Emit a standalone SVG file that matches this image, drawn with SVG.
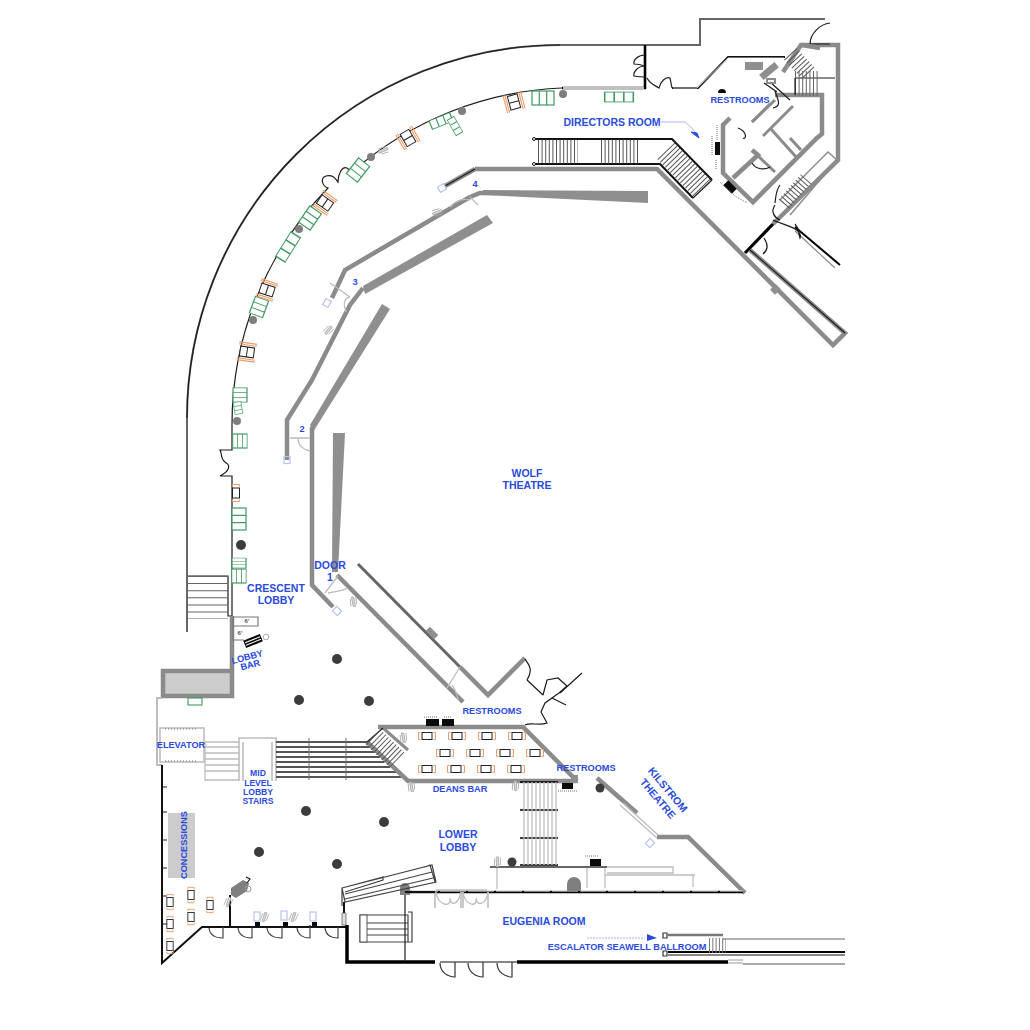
<svg xmlns="http://www.w3.org/2000/svg" xmlns:xlink="http://www.w3.org/1999/xlink" width="1030" height="1030" viewBox="0 0 1030 1030">
<style>
.w{fill:none;stroke:#8b8b8b;stroke-width:4.5;stroke-linejoin:miter}
.w2{fill:none;stroke:#8b8b8b;stroke-width:3}
.k{fill:none;stroke:#1c1c1c;stroke-width:1.2}
.k2{fill:none;stroke:#111;stroke-width:2}
.k3{fill:none;stroke:#000;stroke-width:3.2}
.l{fill:none;stroke:#bdbdbd;stroke-width:1.3}
.m{fill:none;stroke:#6f6f6f;stroke-width:1}
.t{fill:none;stroke:#555;stroke-dasharray:1 2.6}
.tr{fill:none;stroke:#666;stroke-dasharray:1.2 2.2}
.solid{fill:#8f8f8f;stroke:none}
.col{fill:#3c3c3c}
.colg{fill:#7f7f7f}
.b{fill:#0a0a0a}
.bd{fill:none;stroke:#b9c4ef;stroke-width:1.2}
.lb{font-family:"Liberation Sans",Arial,sans-serif;font-weight:700;fill:#2a4bdc;text-anchor:middle}
.s10{font-size:10.5px}.s9{font-size:9.2px}.s8{font-size:8.6px}
.sm{font-family:"Liberation Sans",Arial,sans-serif;font-size:6px;fill:#555;text-anchor:middle;font-weight:700}
</style>
<defs>
<g id="tb"><rect x="-5" y="-3.5" width="10" height="7" fill="#fff" stroke="#222" stroke-width="1"/><path d="M-6.5-3.5h-2v7h2M6.5-3.5h2v7h-2" fill="none" stroke="#ee9c68" stroke-width="1"/></g>
<g id="db"><rect x="-7" y="-5" width="14" height="10" fill="#fff" stroke="#222" stroke-width="1"/><path d="M0-5V5" stroke="#222" stroke-width="1"/><path d="M-9-7H9M-9-9H9M-9 7H9M-9 9H9" stroke="#ee9c68" stroke-width="1.1" fill="none"/></g>
<g id="so"><rect x="-11" y="-7" width="22" height="14" fill="#fff" stroke="#3f9a60" stroke-width="1.2"/><path d="M-3.7-7V7M3.7-7V7" stroke="#3f9a60" stroke-width="1.2"/></g>
<g id="ha"><path d="M-2 4L1-5 3-4 0 5ZM-4 3L-1-4M2 4L5-3" fill="#d8d8d8" stroke="#aaa" stroke-width=".8"/></g>
<g id="dr"><rect x="-3" y="-3.5" width="6" height="7" fill="#fff" class="bd"/></g>
</defs>

<g id="outer-walls">
<path class="w2" style="stroke:#666;stroke-width:2" d="M187 632V418A373 373 0 0 1 560 45H700V19H825"/>
<path class="k" d="M187 418A373 373 0 0 1 560 45"/>
<path class="k" d="M232 616V476H220C228 472 232 466 225 462 220 458 222 452 220 450H232V425A339 339 0 0 1 328 188C322 186 320 178 326 176 334 174 336 180 338 182 338 174 342 166 347 168L352 172 A339 339 0 0 1 562 88"/>
<path class="k3" style="stroke-width:2.6" d="M562 88H645V45"/>
<path class="l" style="stroke:#fff" d="M563 88H644"/>
<path class="k" d="M645 55C638 55 633 60 634 64 638 64 642 65 645 66 638 66 633 72 634 76 638 77 642 77 645 77M647 78C650 84 656 86 659 88 660 82 666 76 670 78L672 88"/>
<path class="k2" d="M672 88H698L728 57H785"/>
<path class="l" style="stroke:#fff;stroke-width:.8" d="M673 88H697L728 58H784"/>
<path class="w" d="M783 72L801 45H838V160L773 224"/>
<path class="k3" d="M773 224L745 253"/>
<path class="k" d="M810 44C810 34 820 24 830 23M810 44H830"/>
<path class="w" d="M475 169H657L833 345 845 333 750 250"/>
<path class="k" d="M750 250L845 333"/>
<path class="k3" style="stroke-width:2" d="M795 227L840 265"/>
<path class="w2" style="stroke-width:1.2" d="M795 231L835 268"/>
<path class="k" d="M773 220C780 224 804 228 800 238 798 232 800 230 795 224M764 238C768 244 768 250 763 254"/>
<rect class="solid" x="772" y="285" width="7" height="8" transform="rotate(45 775 289)"/>
</g>

<g id="escalators-top">
<path class="k2" d="M533 139H672L712 180M533 164H660L693 198"/>
<circle cx="534" cy="139" r="1.5" fill="#fff" stroke="#111"/><circle cx="534" cy="164" r="1.5" fill="#fff" stroke="#111"/>
<path class="t" stroke-width="24" d="M538 151.5H578M601 151.5H640"/>
<path class="t" stroke-width="24" d="M666 151L702 188"/>
<path class="k" d="M712 180L693 198"/>
<polygon class="solid" points="483,190 648,191 648,203 483,195"/>
</g>

<g id="directors-block">
<path class="w" d="M730 118L723 125V173L753 202 817 138 822 134V95H775"/>
<path class="w" d="M733 178L758 155 752 150"/>
<path class="w2" d="M763 136L793 106M752 122L770 104"/>
<path class="w2" d="M775 100L752 122M770 128L797 158M790 138L801 150M757 155L775 172"/>
<path class="k" d="M738 128C748 132 746 140 743 138M752 163C756 170 765 170 770 167M775 91C778 100 782 106 773 108"/>
<path class="k" d="M780 185C776 190 776 195 775 203M775 205C770 212 775 218 780 220"/>
<rect x="715" y="142" width="5" height="13" class="b"/><path class="m" style="stroke-dasharray:1 1" d="M712 136V155M717 125V140M716 160V170"/>
<rect class="b" x="-6" y="-3.5" width="12" height="7" transform="translate(730 187) rotate(45)"/><path class="m" style="stroke-dasharray:1 1" d="M720 182L735 196 747 203"/>
<rect class="solid" x="745" y="62" width="18" height="8"/>
<rect class="solid" x="-10" y="-3.5" width="20" height="7" transform="translate(769 71) rotate(-40)"/>
<path class="k" d="M770 82L790 100M764 83L777 92M795 78H835"/>
<rect class="w2" style="stroke-width:2" x="767" y="79" width="8" height="4"/>
<path class="t" stroke-width="17" d="M793 59L809 80" transform="rotate(-6 801 70) translate(-1 -6)"/>
<path class="t" stroke-width="25" style="stroke:#666" d="M795 83.500H820"/>
<path class="k" d="M795 78V95"/>
<path class="w2" style="stroke-width:1.5" d="M780 200L828 152 837 160 790 215"/>
<path class="t" stroke-width="14" d="M784 204L806 179"/>
<path class="w" d="M802 45L820 48"/>
</g>

<g id="theatre-walls">
<path class="w" d="M445 186L475 169"/><path class="k" d="M445 186L475 169"/>
<path class="w" d="M470 197L480 193H520M470 197L345 270 332 298"/>
<polygon class="solid" points="363,286 487,215 493,223 365,294"/>
<path class="w" d="M287 460V420L312 380 350 305 363 288"/>
<polygon class="solid" points="310,425 382,304 390,309 313,432"/>
<path class="w" d="M312 427V585L333 607"/>
<polygon class="solid" points="333,433 345,433 338,572 332,572"/>
<path class="w" d="M337 575L463 702"/>
<path class="w2" style="stroke:#666" d="M358 564L460 667"/>
<rect class="solid" x="-6" y="-3" width="12" height="6" transform="translate(432 633) rotate(45)"/>
<path class="w" d="M460 667L488 695 525 658"/>
<path class="l" d="M470 197L478 205M450 207C456 200 462 198 470 200M350 297L330 283M346 312C343 304 344 298 350 297M290 438H310M298 438C298 446 304 450 310 451M325 593L338 576M328 593C334 592 345 590 348 588M447 688L460 667M452 685C456 690 458 698 458 700"/>
<path class="k" d="M527 680C534 668 528 664 525 659"/>
<path class="k" d="M527 680L543 695M543 695L547 680 558 678 567 686 559 693 545 703 541 712 547 723C540 726 530 722 525 725M560 693L582 673M552 698L566 705"/>
</g>

<g id="lobby-structure">
<path class="k" d="M188 576H228V616H232"/>
<path class="t" stroke-width="40" style="stroke-dasharray:1 6.1;stroke:#666" d="M208 576V619"/>
<path class="w" d="M232 616V670"/>
<rect x="163" y="671" width="69" height="25" fill="#ccc" stroke="#8b8b8b" stroke-width="4.5"/>
<rect x="188" y="698" width="14" height="7" fill="#fff" stroke="#3f9a60" stroke-width="1.1"/>
<path class="l" style="stroke-width:2" d="M162 698H157V765H162"/>
<rect x="160" y="728" width="44" height="34" fill="none" stroke="#bbb" stroke-width="1.5"/>
<path class="m" style="stroke-dasharray:1 2" d="M165 729H198M165 761H198"/>
<path class="l" d="M205 742H239M205 747H239M205 753H239M205 759H239M205 765H239M205 771H239M205 780H239M205 742V781"/>
<path class="l" style="stroke-width:1.6" d="M239 781V738H276V781M243 742V781M272 742V781"/>
<path class="m" style="stroke-width:1.8;stroke:#555" d="M276 742H368M276 747H372M276 752H376M276 757H380M276 762H384M276 767H390M276 772H396M276 777H402"/>
<path class="m" d="M309 738V780M346 738V780"/>
<path class="w" d="M378 727H523L577 781M367 742L408 781H577"/>
<path class="w2" d="M383 728L408 750"/>
<path class="k" d="M367 742L383 728"/>
<path class="t" stroke-width="21" d="M373 737L397 760"/>
<rect class="b" x="426" y="719" width="13" height="7"/><rect class="b" x="442" y="719" width="12" height="7"/>
<path class="m" style="stroke-dasharray:1 1" d="M424 717H437M444 717H452"/>
<rect class="solid" x="571" y="775" width="7" height="8"/>
<rect class="b" x="562" y="783" width="11" height="6"/>
<path class="m" style="stroke-dasharray:1 1" d="M558 791H577"/>
<path class="k3" style="stroke-width:1.6" d="M520 782H558M520 810H558M520 838H558M520 865H558"/>
<path class="l" d="M524 782V865M528 782V865M532 782V865M536 782V865M540 782V865M544 782V865M548 782V865M552 782V865M556 782V865"/>
<path class="w" d="M597 778L637 813M657 837H688L745 893"/>
<path class="l" d="M620 805L657 838M623 803L658 835"/>
<path class="k2" style="stroke:#333;stroke-width:1.5" d="M490 867H607"/>
<path class="l" d="M497 868V889M587 868V888M605 868V888M607 867H673V873H607M605 875H695M693 875V887"/>
<rect class="b" x="590" y="859" width="11" height="7"/>
<path class="m" style="stroke-dasharray:1 1" d="M585 856H598"/>
<path class="k3" style="stroke-width:2.3" d="M410 892H743"/>
<path stroke="#fff" stroke-width="1" stroke-dasharray="26 2" fill="none" d="M412 891H743"/>
<path class="l" style="stroke-width:1.6" d="M435 892V908M461 892V908M463 892V908M488 892V908M436 890H487"/>
<path class="l" d="M436 892C438 906 452 908 450 898M461 892C458 906 450 906 450 898M463 892C465 906 478 908 476 898M488 892C486 906 476 906 476 898"/>
<path class="colg" d="M567 891V884A7 7 0 0 1 581 884V891Z"/>
<path class="colg" d="M400 895V888A5 5 0 0 1 410 888V895Z"/>
</g>

<g id="lower-west">
<path class="k2" d="M162 765V963L202 927H347"/>
<path class="k" d="M162 787H167M162 812H167M162 840H167M162 868H167M162 896H167M162 924H167M230 927V925M256 927V925M286 927V925M310 927V925"/>
<rect x="168" y="813" width="27" height="65" fill="#ccc"/>
<path class="k" d="M209 928C210 936 216 938 223 938V927M238 928C239 936 246 938 252 938V927M267 928C268 936 275 938 282 938V927M297 928C298 936 305 938 310 938V927M325 928C326 936 332 938 338 938V927" style="stroke:#444"/>
<path class="k3" style="stroke-width:3.5" d="M347 925V962H435"/>
<path class="k2" d="M230 926V895"/>
<path class="colg" d="M231 888L243 880 249 883 247 891 236 898 231 895Z"/>
<path class="k" d="M246 877L250 879 247 883"/><circle cx="248" cy="889" r="3" fill="none" stroke="#999"/>
<path class="k" style="stroke:#444" d="M342 888L432 865 436 882 345 902ZM345 894L432 872M345 899L433 878M342 888V906M342 888L383 877V880L345 892M425 867L430 865 435 882"/>
<path class="k2" d="M344 902V925"/>
<rect x="342" y="913" width="4" height="12" fill="#ddd" stroke="#555" stroke-width=".7"/>
<path class="k" style="stroke:#444" d="M360 915H408V942H360ZM360 923H408M360 929H408M360 935H408M366 915V942M408 912H412V942H408"/>
<rect x="360" y="915" width="7" height="27" fill="#fff" stroke="#555"/>
<path class="k" d="M405 895V962"/>
<path class="k2" d="M405 892H435"/>
<path class="k2" d="M440 962H517" style="stroke-width:1"/>
<path class="k" d="M440 963C440 972 448 977 455 977V962M468 963C468 972 476 977 483 977V962M497 963C497 972 505 977 512 977V962" style="stroke:#333"/>
<path class="k3" style="stroke-width:3.500" d="M517 962H728"/>
<path class="l" d="M728 960H743M728 963H743"/>
<path class="k" style="stroke:#555" d="M743 964H845"/>
<path class="w2" style="stroke:#777;stroke-width:2.500" d="M668 935H723"/>
<path class="k" style="stroke:#666" d="M723 939H845"/>
<path class="k3" style="stroke-width:1.800" d="M668 952H845"/>
<path class="w2" style="stroke:#888;stroke-width:2" d="M668 955H845"/>
<path class="k" d="M663 933H667V938H663ZM663 951H667V956H663Z" style="stroke:#333"/>
<path class="tr" stroke-width="15" style="stroke:#777;stroke-dasharray:1 2.300" d="M709 945.500H726"/>
<path class="m" d="M587 938H645" style="stroke:#a6b4ec;stroke-dasharray:2 1"/>
<path d="M647 934L657 938 647 941Z" fill="#2a4bdc"/>
<path class="m" d="M664 100H700" style="display:none"/>
<path d="M661 122C670 122 680 122 685 122 690 126 692 128 695 132" fill="none" stroke="#a6b4ec"/>
<path d="M691 132L697 133 699 138 Z" fill="#2a4bdc" stroke="#2a4bdc"/>
<path class="k" d="M233 617H258V626H233ZM233 617V640H240M233 640H244" style="stroke:#777"/>
<rect class="b" x="-9" y="-4" width="18" height="8" transform="translate(253 641) rotate(-22)"/>
<path stroke="#fff" stroke-width="1" d="M-8 -1.300H8M-8 1.300H8" transform="translate(253 641) rotate(-22)"/>
<circle cx="266" cy="637" r="2.800" fill="none" stroke="#aaa"/>
</g>

<g id="columns">
<circle class="col" cx="337" cy="659" r="5"/><circle class="col" cx="299" cy="700" r="5"/><circle class="col" cx="369" cy="701" r="5"/>
<circle class="col" cx="306" cy="811" r="5"/><circle class="col" cx="384" cy="822" r="5"/><circle class="col" cx="259" cy="852" r="5"/><circle class="col" cx="337" cy="864" r="5"/>
<circle class="col" cx="241" cy="545" r="5"/><circle class="col" cx="600" cy="788" r="4.500"/><circle class="col" cx="512" cy="862" r="4.500"/>
<circle class="colg" cx="237" cy="421" r="4"/><circle class="colg" cx="253" cy="320" r="4"/><circle class="colg" cx="299" cy="229" r="4"/><circle class="colg" cx="371" cy="157" r="4"/><circle class="colg" cx="462" cy="111" r="4"/><circle class="colg" cx="563" cy="94" r="4"/>
<path class="b" d="M718 93A4 4 0 0 1 726 93Z"/>
</g>

<g id="furniture">
<use xlink:href="#db" href="#db" transform="translate(514 102) rotate(75)"/>
<use xlink:href="#db" href="#db" transform="translate(408 138) rotate(60)"/>
<use xlink:href="#db" href="#db" transform="translate(325 203) rotate(35)"/>
<use xlink:href="#db" href="#db" transform="translate(267 290) rotate(18)"/>
<use xlink:href="#db" href="#db" transform="translate(247 352) rotate(8)"/>
<use xlink:href="#tb" href="#tb" transform="translate(236 493) rotate(90)"/>
<use xlink:href="#so" href="#so" transform="translate(543 98)"/>
<use xlink:href="#so" href="#so" transform="translate(619 97) scale(1.300 .7)"/>
<use xlink:href="#so" href="#so" transform="translate(441 121) rotate(-22) scale(1 .65)"/>
<use xlink:href="#so" href="#so" transform="translate(455 126) rotate(60) scale(.8 .55)"/>
<use xlink:href="#so" href="#so" transform="translate(358 170) rotate(-52) scale(.9 1)"/>
<use xlink:href="#so" href="#so" transform="translate(310 218) rotate(-55) scale(.9 1)"/>
<use xlink:href="#so" href="#so" transform="translate(288 247) rotate(-58) scale(1.300 .8)"/>
<use xlink:href="#so" href="#so" transform="translate(259 307) rotate(-70) scale(.8 1)"/>
<use xlink:href="#so" href="#so" transform="translate(240 395) rotate(90) scale(.65 1)" style="display:inline"/>
<use xlink:href="#so" href="#so" transform="translate(238 408) rotate(80) scale(.55 .55)"/>
<use xlink:href="#so" href="#so" transform="translate(240 441) scale(.65 1)"/>
<use xlink:href="#so" href="#so" transform="translate(239 519) rotate(90) scale(1 1)"/>
<use xlink:href="#so" href="#so" transform="translate(239 563) rotate(90) scale(.45 1)"/>
<use xlink:href="#so" href="#so" transform="translate(239 576) scale(.65 1)"/>
<use xlink:href="#tb" href="#tb" transform="translate(427 736)"/><use xlink:href="#tb" href="#tb" transform="translate(457 736)"/><use xlink:href="#tb" href="#tb" transform="translate(487 736)"/><use xlink:href="#tb" href="#tb" transform="translate(517 736)"/>
<use xlink:href="#tb" href="#tb" transform="translate(445 753)"/><use xlink:href="#tb" href="#tb" transform="translate(475 753)"/><use xlink:href="#tb" href="#tb" transform="translate(505 753)"/><use xlink:href="#tb" href="#tb" transform="translate(535 753)"/>
<use xlink:href="#tb" href="#tb" transform="translate(427 769)"/><use xlink:href="#tb" href="#tb" transform="translate(456 769)"/><use xlink:href="#tb" href="#tb" transform="translate(486 769)"/><use xlink:href="#tb" href="#tb" transform="translate(516 769)"/>
<use xlink:href="#tb" href="#tb" transform="translate(170 902) rotate(90) scale(.9)"/><use xlink:href="#tb" href="#tb" transform="translate(170 924) rotate(90) scale(.9)"/><use xlink:href="#tb" href="#tb" transform="translate(170 946) rotate(90) scale(.9)"/>
<use xlink:href="#tb" href="#tb" transform="translate(191 895) rotate(90) scale(.9)"/><use xlink:href="#tb" href="#tb" transform="translate(191 917) rotate(90) scale(.9)"/><use xlink:href="#tb" href="#tb" transform="translate(210 905) rotate(90) scale(.9)"/>
<use xlink:href="#ha" href="#ha" transform="translate(383 150) rotate(50)"/><use xlink:href="#ha" href="#ha" transform="translate(437 212) rotate(50)"/><use xlink:href="#ha" href="#ha" transform="translate(328 330) rotate(20)"/><use xlink:href="#ha" href="#ha" transform="translate(353 602) rotate(-30)"/><use xlink:href="#ha" href="#ha" transform="translate(403 738) rotate(-30)"/><use xlink:href="#ha" href="#ha" transform="translate(411 787) rotate(-30)"/><use xlink:href="#ha" href="#ha" transform="translate(515 786) rotate(-20)"/><use xlink:href="#ha" href="#ha" transform="translate(497 862) rotate(-20)"/><use xlink:href="#ha" href="#ha" transform="translate(228 902)"/><use xlink:href="#ha" href="#ha" transform="translate(264 917)"/><use xlink:href="#ha" href="#ha" transform="translate(293 917)"/>
<use xlink:href="#dr" href="#dr" transform="translate(442 188) rotate(60)"/><use xlink:href="#dr" href="#dr" transform="translate(327 303) rotate(30)"/><use xlink:href="#dr" href="#dr" transform="translate(287 460)"/><use xlink:href="#dr" href="#dr" transform="translate(337 611) rotate(-45)"/><use xlink:href="#dr" href="#dr" transform="translate(650 843) rotate(45)"/>
<rect class="bd" x="254" y="912" width="6" height="9"/><rect class="bd" x="281" y="911" width="6" height="9"/><rect class="bd" x="310" y="912" width="6" height="9"/>
<rect class="b" x="255" y="922" width="5" height="4"/><rect class="b" x="283" y="922" width="5" height="4"/><rect class="b" x="312" y="922" width="5" height="4"/>
</g>

<g id="labels">
<text class="lb s10" x="612" y="126">DIRECTORS ROOM</text>
<text class="lb s9" x="740" y="103">RESTROOMS</text>
<text class="lb s10" x="527" y="477">WOLF</text><text class="lb s10" x="527" y="489">THEATRE</text>
<text class="lb s9" x="475" y="187">4</text><text class="lb s9" x="355" y="285">3</text><text class="lb s9" x="302" y="432">2</text>
<text class="lb s10" x="330" y="569">DOOR</text><text class="lb s10" x="330" y="581">1</text>
<text class="lb s10" x="276" y="592">CRESCENT</text><text class="lb s10" x="276" y="604">LOBBY</text>
<text class="lb s9" transform="translate(248 660) rotate(-15)">LOBBY</text><text class="lb s9" transform="translate(251 668) rotate(-15)">BAR</text>
<text class="sm" x="247" y="623">6'</text><text class="sm" x="240" y="635">6'</text>
<text class="lb s9" x="181" y="748">ELEVATOR</text>
<text class="lb s8" x="258" y="776">MID</text><text class="lb s8" x="258" y="786">LEVEL</text><text class="lb s8" x="258" y="795">LOBBY</text><text class="lb s8" x="258" y="804">STAIRS</text>
<text class="lb s9" x="460" y="792">DEANS BAR</text>
<text class="lb s9" x="492" y="714">RESTROOMS</text>
<text class="lb s9" x="586" y="771">RESTROOMS</text>
<text class="lb s10" transform="translate(665 792) rotate(50)">KILSTROM</text>
<text class="lb s10" transform="translate(655 801) rotate(50)">THEATRE</text>
<text class="lb s10" x="458" y="838">LOWER</text><text class="lb s10" x="458" y="851">LOBBY</text>
<text class="lb s9" transform="translate(187 845) rotate(-90)">CONCESSIONS</text>
<text class="lb s10" x="544" y="925">EUGENIA ROOM</text>
<text class="lb s9" x="627" y="950">ESCALATOR SEAWELL BALLROOM</text>
</g>
</svg>
